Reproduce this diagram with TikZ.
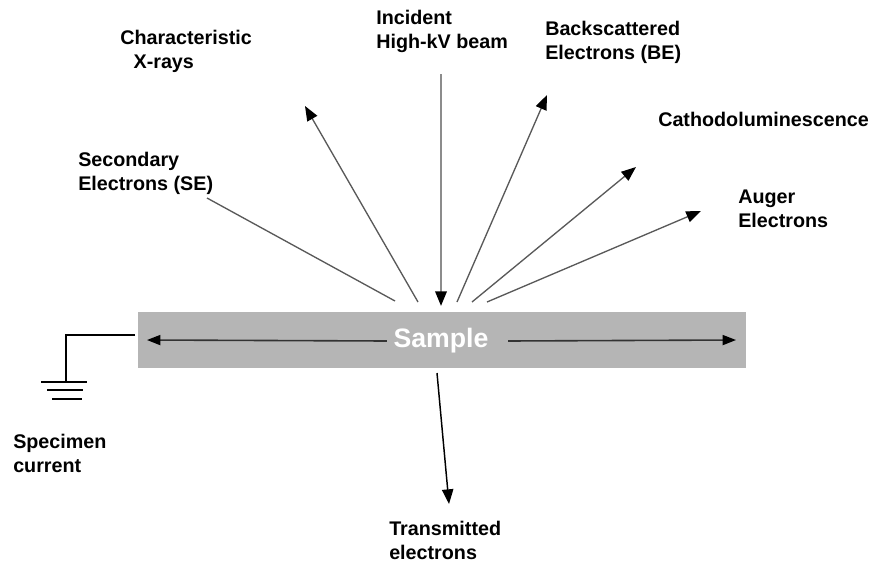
\documentclass[tikz,border=0pt]{standalone}
\usepackage{fontspec}
\setmainfont{Liberation Sans}
\usetikzlibrary{arrows.meta}
\begin{document}
\begin{tikzpicture}[x=0.75pt,y=-0.75pt,
  label/.style={inner sep=0pt, anchor=north west, align=left,
    font=\bfseries\fontsize{14.8}{18}\selectfont},
  tip/.style={-{Triangle[length=11pt,width=8.5pt,color=black]}},
  ray/.style={draw=black!65, line width=1pt},
  rayarrow/.style={ray, tip},
  beam/.style={draw=black!45, line width=1.8pt, tip},
  spread/.style={draw=black!80, line width=1.2pt, -{Triangle[length=10pt,width=7.5pt,color=black]}},
  wire/.style={draw=black, line width=1.1pt},
]
\useasboundingbox (0,0) rectangle (874,571);

% specimen block
\node[fill=black!29, minimum width=608*0.75pt, minimum height=56*0.75pt,
  inner sep=0pt, anchor=north west] (sample) at (138,312) {};
\node[text=white, font=\bfseries\fontsize{20}{22}\selectfont] (samplelbl) at (441,341) {Sample};
\coordinate (sl) at (147,340);
\coordinate (sr) at (736,340);
\draw[spread] (samplelbl.west) ++(-2,0) -- (sl);
\draw[spread] (samplelbl.east) ++(15,0) -- (sr);

% where the emitted signals leave the surface
\coordinate (oSE) at (395,301);
\coordinate (oX)  at (418,302);
\coordinate (oBE) at (457,302);
\coordinate (oCL) at (472,302);
\coordinate (oAE) at (487,302);
\coordinate (hit) at (441,306);

% signal end points
\coordinate (eSE) at (207,198);
\coordinate (eX)  at (305,106);
\coordinate (eBE) at (547,95);
\coordinate (eCL) at (636,167);
\coordinate (eAE) at (701,211);
\coordinate (src) at (441,74);

\draw[beam] (src) -- (hit);
\draw[ray] (oSE) -- (eSE);
\draw[rayarrow] (oX) -- (eX);
\draw[rayarrow] (oBE) -- (eBE);
\draw[rayarrow] (oCL) -- (eCL);
\draw[rayarrow] (oAE) -- (eAE);

% transmitted beam
\coordinate (tin) at (437,373);
\coordinate (tout) at (449,504);
\draw[wire, tip] (tin) -- (tout);

% ground connection
\coordinate (g0) at (135,335);
\coordinate (g1) at (66,335);
\coordinate (g2) at (66,382);
\draw[wire] (g0) -- (g1) -- (g2);
\draw[wire] (41,382) -- (87,382);
\draw[wire] (47,390) -- (83,390);
\draw[wire] (52,399) -- (82,399);

% labels
\node[label] (lInc) at (376,10) {Incident\\High-kV beam};
\node[label] (lX)   at (120,30) {Characteristic\\\hspace*{10pt}X-rays};
\node[label] (lBE)  at (545,21) {Backscattered\\Electrons (BE)};
\node[label] (lCL)  at (658,112) {Cathodoluminescence};
\node[label] (lSE)  at (78,152) {Secondary\\Electrons (SE)};
\node[label] (lAE)  at (738,190) {Auger\\Electrons};
\node[label] (lSC)  at (13,434) {Specimen\\current};
\node[label] (lTE)  at (389,521) {Transmitted\\electrons};
\end{tikzpicture}
\end{document}
